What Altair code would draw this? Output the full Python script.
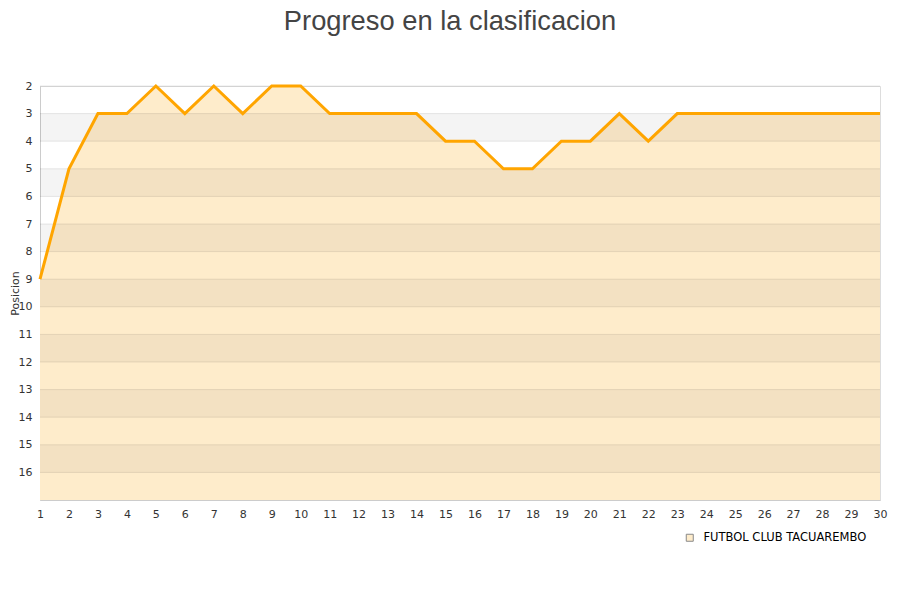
import altair as alt
import pandas as pd

rounds = list(range(1, 31))
positions = [9, 5, 3, 3, 2, 3, 2, 3, 2, 2, 3, 3, 3, 3, 4, 4, 5, 5, 4, 4, 3, 4, 3, 3, 3, 3, 3, 3, 3, 3]
team = "FUTBOL CLUB TACUAREMBO"
y_ticks = list(range(2, 17))
band_starts = [3, 5, 7, 9, 11, 13, 15]
y_min, y_max = 2, 17

df = pd.DataFrame({"Jornada": rounds, "Posicion": positions, "Equipo": team})
bands = pd.DataFrame({"start": band_starts, "end": [b + 1 for b in band_starts]})
grid = pd.DataFrame({"v": y_ticks})

xscale = alt.Scale(domain=[1, 30], nice=False, zero=False)
yscale = alt.Scale(domain=[y_min, y_max], reverse=True, nice=False, zero=False)

xaxis = alt.Axis(values=rounds, title=None, grid=False, ticks=False, labelPadding=8,
                 labelFont="DejaVu Sans", labelFontSize=11, labelColor="#333",
                 domainColor="#cccccc", labelAngle=0, labelOverlap=False, labelFlush=False,
                 labelBound=False, labelSeparation=0)
yaxis = alt.Axis(values=y_ticks, title="Posicion", grid=False, ticks=False, labelPadding=8,
                 labelFont="DejaVu Sans", labelFontSize=11, labelColor="#333",
                 labelOverlap=False, labelFlush=False, labelBound=False, labelSeparation=0,
                 titleFont="DejaVu Sans", titleFontSize=11, titleColor="#333",
                 titleFontWeight="normal", titleX=-22, titleY=207, titleAngle=270,
                 titleAlign="center", titleBaseline="alphabetic", domainColor="#cccccc")

area_layer = alt.Chart(df).mark_area(opacity=1, interpolate="linear").encode(
    x=alt.X("Jornada:Q", scale=xscale, axis=xaxis),
    y=alt.Y("Posicion:Q", scale=yscale, axis=yaxis),
    y2=alt.datum(y_max),
    color=alt.Color("Equipo:N", scale=alt.Scale(range=["#feeccb"]),
                    legend=alt.Legend(title=None, orient="none", legendX=644, legendY=446,
                                      symbolType="square", symbolSize=49,
                                      symbolStrokeColor="#888888",
                                      symbolStrokeWidth=1, symbolOpacity=1,
                                      labelOffset=8, labelLimit=400,
                                      labelFont="DejaVu Sans", labelFontSize=11.5,
                                      labelColor="#000000")),
)

band_layer = alt.Chart(bands).mark_rect(color="#000000", opacity=0.045).encode(
    x=alt.datum(1, scale=xscale, axis=xaxis),
    x2=alt.datum(30),
    y=alt.Y("start:Q", scale=yscale, axis=yaxis),
    y2="end:Q",
)

grid_layer = alt.Chart(grid).mark_rule(color="#000000", opacity=0.09, strokeWidth=1).encode(
    y=alt.Y("v:Q", scale=yscale, axis=yaxis),
)

line_layer = alt.Chart(df).mark_line(color="#ffa500", strokeWidth=3).encode(
    x=alt.X("Jornada:Q", scale=xscale, axis=xaxis),
    y=alt.Y("Posicion:Q", scale=yscale, axis=yaxis),
)

chart = alt.layer(area_layer, band_layer, grid_layer, line_layer).properties(
    width=840,
    height=414,
    autosize=alt.AutoSizeParams(type="none"),
    padding={"left": 32, "top": 78, "right": 12, "bottom": 92},
    title=alt.Title("Progreso en la clasificacion", font="Liberation Sans", fontSize=27.3,
                    fontWeight="normal", color="#444444", anchor="middle", offset=45, dx=-10),
).configure_view(stroke="#dddddd").configure_axis(
    labelOverlap=False, labelFlush=False
).configure(background="white")

chart.save("out.html", embed_options={"renderer": "svg", "actions": False})
